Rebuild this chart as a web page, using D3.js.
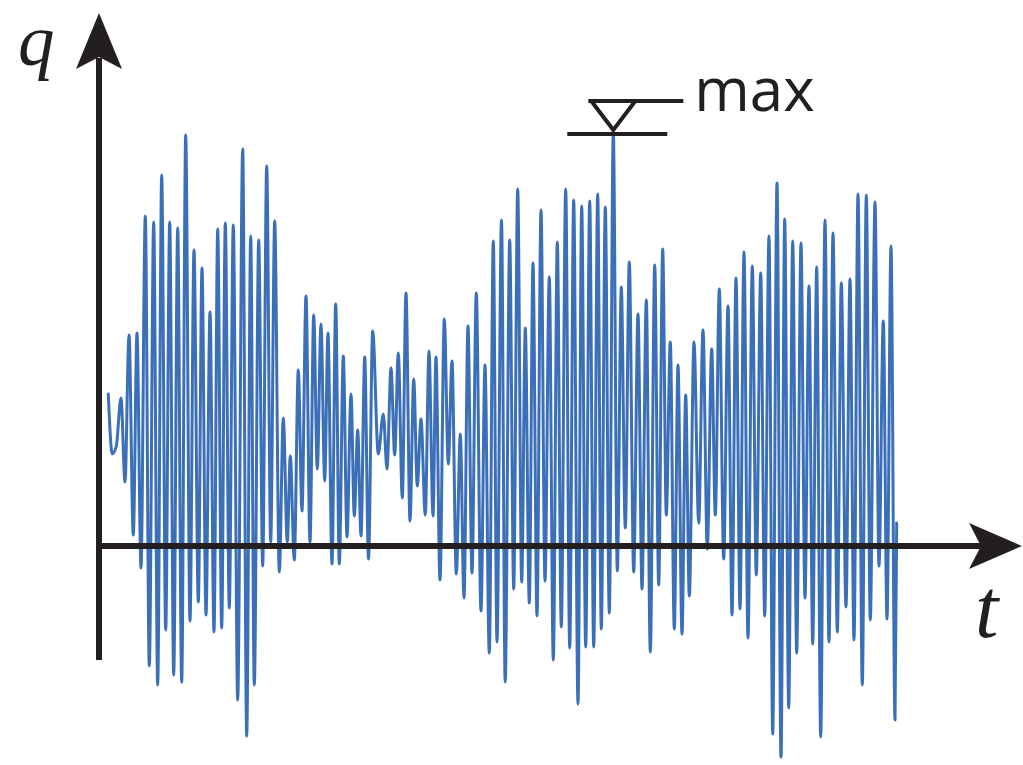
<!DOCTYPE html>
<html>
<head>
<meta charset="utf-8">
<script src="https://cdn.jsdelivr.net/npm/d3@7"></script>
<style>
html,body{margin:0;padding:0;background:#fff;}
svg{display:block;}
</style>
</head>
<body>
<svg id="chart" width="1023" height="765"></svg>
<script>
// Local extrema of the signal (time, value)
const tVals = [9.3,13.3,17.3,22.0,26.0,30.0,34.3,38.0,42.0,46.3,50.3,54.7,58.7,62.7,66.7,70.7,74.7,78.7,82.7,86.7,
91.0,95.0,99.3,103.0,107.0,111.0,115.0,118.7,122.7,126.3,130.3,134.3,138.7,143.7,147.7,151.7,155.3,159.7,163.7,167.7,
171.7,175.7,180.3,184.3,188.3,191.3,195.3,199.3,203.0,207.0,211.0,214.7,218.3,222.0,225.7,229.0,233.0,236.7,240.3,244.3,
248.0,252.0,255.3,258.7,262.0,265.7,269.5,273.7,279.3,284.3,288.0,292.0,295.7,299.3,303.3,307.0,311.0,314.7,318.3,322.0,
326.3,330.0,334.0,337.0,341.0,345.3,349.3,353.0,357.3,361.3,365.0,369.0,373.0,377.3,382.0,386.0,390.3,394.3,398.0,402.5,
406.2,410.7,414.7,418.7,422.7,426.3,430.3,434.0,438.0,442.0,446.0,450.3,454.3,458.3,462.3,466.7,470.7,474.7,479.0,482.7,
486.7,490.7,494.7,498.7,502.3,506.3,510.3,514.3,518.3,522.3,526.3,530.3,534.7,539.0,543.0,547.3,551.3,555.7,559.7,563.7,
567.3,571.3,575.3,579.0,583.0,586.7,590.3,595.0,599.7,604.0,608.3,612.7,616.3,620.3,624.7,629.0,633.0,637.0,641.0,645.0,
649.0,653.3,657.3,661.7,665.7,670.0,673.7,678.0,682.0,685.7,689.7,693.7,697.7,702.0,706.0,710.0,713.7,717.7,721.7,726.0,
730.0,734.0,738.3,742.3,747.0,751.0,755.0,759.0,763.3,767.3,771.3,776.0,780.0,784.3,788.0,792.0,796.0,797.7];
const qVals = [1.52,0.92,1.00,1.48,0.64,2.11,0.11,2.13,-0.22,3.30,-1.20,3.24,-1.39,3.71,-0.84,3.24,-1.29,3.18,-1.36,4.11,
-0.75,2.96,-0.56,2.78,-0.69,2.34,-0.86,3.17,-0.82,3.23,-0.62,3.21,-1.54,3.97,-1.90,3.10,-1.39,3.06,-0.20,3.80,
0.04,3.25,-0.26,1.28,0.04,0.90,-0.14,1.76,0.35,2.50,0.04,2.31,0.77,2.22,0.65,2.13,-0.18,2.42,-0.18,1.90,
0.09,1.52,0.30,1.16,0.10,1.89,-0.13,2.15,0.92,1.32,0.77,1.78,0.91,1.93,0.48,2.53,0.25,1.67,0.60,1.27,
0.31,1.95,0.30,1.89,-0.34,2.27,0.82,1.85,-0.28,1.12,-0.52,2.20,-0.27,2.53,-0.65,1.81,-1.07,3.05,-0.96,3.26,
-1.36,3.06,-0.43,3.57,-0.36,2.18,-0.57,2.83,-0.70,3.36,-0.35,2.69,-1.14,3.04,-0.81,3.57,-1.02,3.46,-1.58,3.40,
-1.01,3.45,-1.01,3.52,-0.83,3.39,-0.67,4.14,-0.25,2.59,0.18,2.84,-0.26,2.32,-0.43,2.46,-1.06,2.81,-0.39,2.97,
0.31,2.04,-0.83,1.81,-0.88,1.51,-0.50,2.04,0.23,2.16,-0.03,1.97,0.31,2.57,-0.13,2.40,-0.69,2.68,-0.63,2.94,
-0.92,2.80,-0.29,2.73,-0.70,3.10,-1.88,3.63,-2.11,3.27,-1.62,3.05,-1.07,3.03,-0.52,2.60,-0.98,2.79,-1.91,3.26,
-0.96,3.13,-0.86,2.63,-0.61,2.67,-0.94,3.52,-1.39,3.51,-0.74,3.44,-0.20,2.25,-0.73,3.00,-1.74,0.23];
const maxLabel = "max";
const xLabel = "t";
const yLabel = "q";

const svg = d3.select("#chart");
const x = d3.scaleLinear().domain([0, 923]).range([99, 1022]);
const y = d3.scaleLinear().domain([-2, 5]).range([746, 46]);

const data = tVals.map((t, i) => ({t, q: qVals[i]}));
const axisColor = "#231f20";
const lineColor = "#3b70b9";

// signal
const line = d3.line().x(d => x(d.t)).y(d => y(d.q)).curve(d3.curveMonotoneX);
svg.append("path").datum(data)
  .attr("d", line)
  .attr("fill", "none")
  .attr("stroke", lineColor)
  .attr("stroke-width", 3)
  .attr("stroke-linejoin", "round")
  .attr("stroke-linecap", "round");

// axes
const x0 = x(0), y0 = y(0);
svg.append("line").attr("x1", x0).attr("x2", x0).attr("y1", y(-1.14)).attr("y2", 58)
  .attr("stroke", axisColor).attr("stroke-width", 6);
svg.append("line").attr("x1", x0 - 3).attr("x2", 985).attr("y1", y0).attr("y2", y0)
  .attr("stroke", axisColor).attr("stroke-width", 6);
// arrowheads
svg.append("path")
  .attr("d", `M${x0},13 L${x0+23},69 L${x0},57 L${x0-23},69 Z`)
  .attr("fill", axisColor);
svg.append("path")
  .attr("d", `M1022,${y0} L969,${y0-23} L981,${y0} L969,${y0+23} Z`)
  .attr("fill", axisColor);

// axis labels
svg.append("text").attr("x", 18).attr("y", 65).text(yLabel)
  .attr("font-family", "'Liberation Serif', serif").attr("font-style", "italic")
  .attr("font-size", 73).attr("fill", axisColor);
svg.append("text").attr("x", 975).attr("y", 637).text(xLabel)
  .attr("font-family", "'Liberation Serif', serif").attr("font-style", "italic")
  .attr("font-size", 84).attr("fill", axisColor);

// max marker
const mi = d3.maxIndex(qVals);
const mx = x(tVals[mi]), my = y(qVals[mi]);
const g = svg.append("g").attr("stroke", axisColor).attr("stroke-width", 4).attr("fill", "none");
g.append("line").attr("x1", mx - 46).attr("x2", mx + 54).attr("y1", my + 2).attr("y2", my + 2);
g.append("line").attr("x1", mx - 25).attr("x2", mx + 70).attr("y1", my - 31).attr("y2", my - 31);
g.append("path").attr("d", `M${mx-22},${my-31} L${mx},${my-2} L${mx+22},${my-31}`)
  .attr("stroke-linejoin", "miter");
svg.append("text").attr("x", mx + 81).attr("y", my - 21).text(maxLabel)
  .attr("font-family", "'Open Sans', sans-serif").attr("font-size", 60).attr("fill", axisColor);
</script>
</body>
</html>
